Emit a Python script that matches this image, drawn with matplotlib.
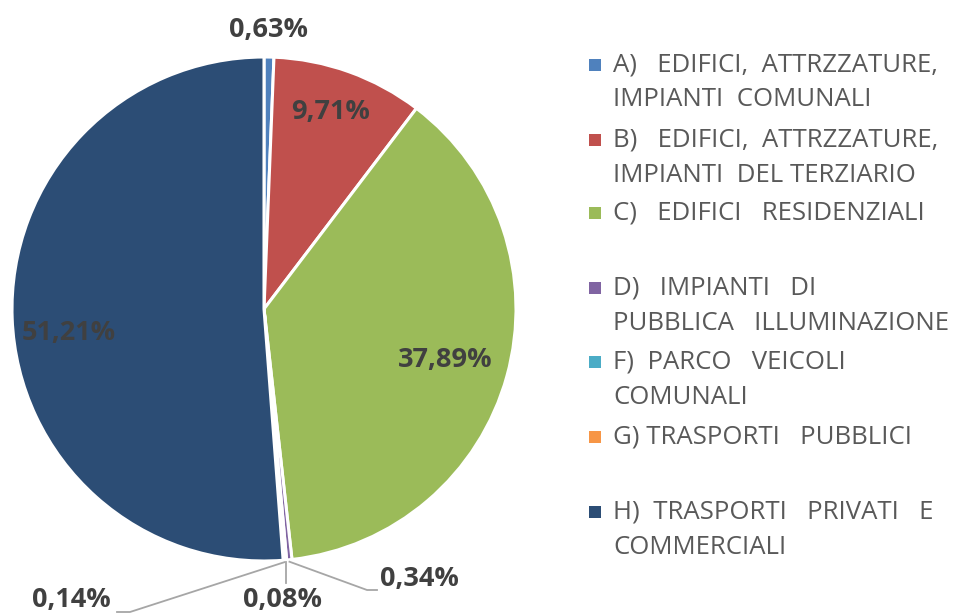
import matplotlib
matplotlib.use("Agg")
import matplotlib.pyplot as plt
import numpy as np
from matplotlib.patches import Rectangle

categories = [
    "A)   EDIFICI,  ATTRZZATURE,\nIMPIANTI  COMUNALI",
    "B)   EDIFICI,  ATTRZZATURE,\nIMPIANTI  DEL TERZIARIO",
    "C)   EDIFICI   RESIDENZIALI",
    "D)   IMPIANTI   DI\nPUBBLICA   ILLUMINAZIONE",
    "F)  PARCO   VEICOLI\nCOMUNALI",
    "G) TRASPORTI   PUBBLICI",
    "H)  TRASPORTI   PRIVATI   E\nCOMMERCIALI",
]
values = [0.63, 9.71, 37.89, 0.34, 0.08, 0.14, 51.21]
value_labels = ["0,63%", "9,71%", "37,89%", "0,34%", "0,08%", "0,14%", "51,21%"]
colors = ["#4F81BD", "#C0504D", "#9BBB59", "#8064A2", "#4BACC6", "#F79646", "#2C4D75"]

W, H = 976, 615
FONT = "Open Sans"
fig = plt.figure(figsize=(W / 100, H / 100), dpi=100)
ax = fig.add_axes([0, 0, 1, 1])

def P(x, y):
    return (x, H - y)

cx, cy = P(264, 309)
R = 252
wedges, _ = ax.pie(values, colors=colors, startangle=90, counterclock=False,
                   center=(cx, cy), radius=R,
                   wedgeprops=dict(edgecolor="white", linewidth=2.2))
ax.set_xlim(0, W)
ax.set_ylim(0, H)
ax.set_aspect("auto")
ax.axis("off")

lab_color = "#404040"
lab_kw = dict(fontsize=19.5, fontweight="bold", color=lab_color, family=FONT,
              va="center", clip_on=False)

pos = {0: (268, 30, "center"), 1: (331, 112, "center"), 2: (445, 360, "center"),
       6: (69, 333, "center"), 3: (380, 579, "left"), 4: (283, 600, "center"),
       5: (111, 600, "right")}
for i, (x, y, ha) in pos.items():
    ax.text(*P(x, y), value_labels[i], ha=ha, **lab_kw)

cum = np.cumsum([0] + values[:-1])
def edge_point(i, extra=2):
    frac = (cum[i] + values[i] / 2) / sum(values)
    ang = np.deg2rad(90 - 360 * frac)
    return cx + (R + extra) * np.cos(ang), cy + (R + extra) * np.sin(ang)

lc = "#A6A6A6"
x0, y0 = edge_point(3)
ax.plot([x0, 367, 377], [y0, H - 590, H - 590], color=lc, lw=1.3, clip_on=False)
x0, y0 = edge_point(4)
ax.plot([x0, x0], [y0, H - 583], color=lc, lw=1.3, clip_on=False)
x0, y0 = edge_point(5)
ax.plot([x0, 130, 117], [y0, H - 612, H - 612], color=lc, lw=1.3, clip_on=False)

leg_y = [65, 140, 213, 288, 362, 437, 512]
line_h = 35
for c, lab, y in zip(colors, categories, leg_y):
    ax.add_patch(Rectangle(P(589, y + 6), 12, 12, facecolor=c, edgecolor="none"))
    for k, line in enumerate(lab.split("\n")):
        ax.text(*P(613, y + k * line_h), line, fontsize=18.5, color="#595959",
                family=FONT, va="center", ha="left")

fig.savefig("out.png", dpi=100)
